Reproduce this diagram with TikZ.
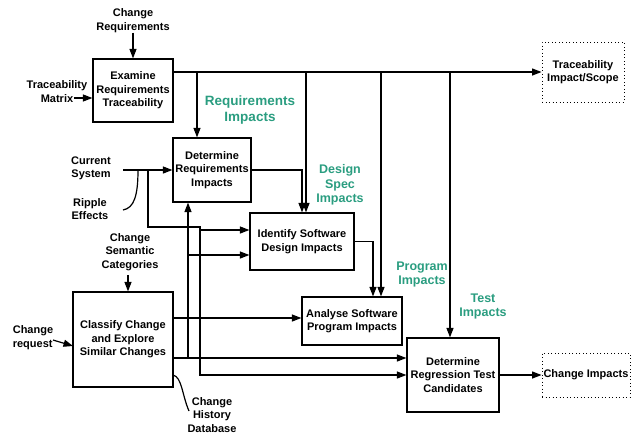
\documentclass[tikz,border=0pt]{standalone}
\usepackage{fontspec}
\setmainfont{Liberation Sans}
\usetikzlibrary{arrows.meta}
\definecolor{grn}{RGB}{42,157,128}
\begin{document}
\begin{tikzpicture}[x=1pt,y=-1pt,
  every node/.style={font=\bfseries\fontsize{11}{13.5}\selectfont, align=center, inner sep=0pt},
  box/.style={draw, line width=1.2pt},
  dbox/.style={draw, line width=0.9pt, dash pattern=on 0.9pt off 2.6pt},
  glbl/.style={text=grn, font=\bfseries\fontsize{12.5}{14.5}\selectfont},
  ln/.style={line width=1.2pt},
  arr/.style={line width=1.2pt, -{Triangle[length=9.5pt,width=7pt]}}]
\useasboundingbox (0,0) rectangle (631,437);
% boxes
\node[box, minimum width=80, minimum height=63] (ert) at (133,90.5) {Examine\\Requirements\\Traceability};
\node[box, minimum width=78, minimum height=64] (dri) at (212,170) {Determine\\Requirements\\Impacts};
\node[box, minimum width=104, minimum height=57] (isd) at (302,241.5) {Identify Software\\Design Impacts};
\node[box, minimum width=100, minimum height=48] (asp) at (352,321) {Analyse Software\\Program Impacts};
\node[box, minimum width=92, minimum height=74] (drt) at (453,375) {Determine\\Regression Test\\Candidates};
\node[box, minimum width=100, minimum height=95] (ccs) at (123,339.5) {Classify Change\\and Explore\\Similar Changes};
\node[dbox, minimum width=82, minimum height=60] (tis) at (583,72) {Traceability\\Impact/Scope};
\node[dbox, minimum width=88, minimum height=44] (ci) at (586,375) {Change Impacts};
% labels
\node (crq) at (133,20.5) {Change\\Requirements};
\node (tm) at (57,91.5) {Traceability\\Matrix};
\node (cs) at (91,168.5) {Current\\System};
\node (re) at (90,209) {Ripple\\Effects};
\node (csc) at (130,252) {Change\\Semantic\\Categories};
\node[align=left] (cr) at (33,337.5) {Change\\request};
\node (chd) at (212,415) {Change\\History\\Database};
% green labels
\node[glbl, font=\bfseries\fontsize{13.5}{16.5}\selectfont] (gri) at (250,110) {Requirements\\Impacts};
\node[glbl] (gds) at (340,185) {Design\\Spec\\Impacts};
\node[glbl] (gpi) at (422,274.5) {Program\\Impacts};
\node[glbl] (gti) at (483,306.5) {Test\\Impacts};
% coordinates
\coordinate (tmA) at (74,98);
\coordinate (bus) at (173,72);
\coordinate (xb1) at (197,0);
\coordinate (xb2) at (306,0);
\coordinate (xb3) at (381,0);
\coordinate (xb4) at (450,0);
\coordinate (xd) at (302,0);
\coordinate (xi) at (373,0);
\coordinate (csA) at (123,170);
\coordinate (reA) at (123,210);
\coordinate (reB) at (138,170);
\coordinate (j1) at (148,170);
\coordinate (j1b) at (148,227);
\coordinate (j2) at (200,227);
\coordinate (j2b) at (200,375);
\coordinate (j2c) at (200,230);
\coordinate (c1) at (173,358);
\coordinate (c2) at (173,318);
\coordinate (k1) at (188,358);
\coordinate (k2) at (188,255);
\coordinate (crA) at (53,340);
\coordinate (crB) at (73,346);
\coordinate (hA) at (173,375);
\coordinate (hB) at (189,411);
% connectors
\draw[arr] (crq.south) -- (ert.north);
\draw[arr] (tmA) -- (tmA -| ert.west);
\draw[arr] (bus) -- (bus -| tis.west);
\draw[arr] (bus -| xb1) -- (xb1 |- dri.north);
\draw[arr] (bus -| xb2) -- (xb2 |- isd.north);
\draw[arr] (bus -| xb3) -- (xb3 |- asp.north);
\draw[arr] (bus -| xb4) -- (xb4 |- drt.north);
\draw[arr] (dri.east) -- (dri.east -| xd) -- (xd |- isd.north);
\draw[arr] (isd.east) -- (isd.east -| xi) -- (xi |- asp.north);
\draw[arr] (csA) -- (dri.west);
\draw[ln] (reA) .. controls (134,208) and (138,196) .. (reB);
\draw[arr] (j1) -- (j1b) -- (j2) -- (j2b) -- (j2b -| drt.west);
\draw[arr] (j2c) -- (j2c -| isd.west);
\draw[arr] (c1) -- (c1 -| drt.west);
\draw[arr] (k1) -- (k1 |- dri.south);
\draw[arr] (k2) -- (k2 -| isd.west);
\draw[arr] (c2) -- (c2 -| asp.west);
\draw[arr] (drt.east) -- (ci.west);
\draw[arr] (csc.south -| 128,0) ++(0,4) -- (128,0 |- ccs.north);
\draw[arr] (crA) -- (crB);
\draw[ln] (hA) .. controls (182,377) and (182,395) .. (hB);
\end{tikzpicture}
\end{document}
